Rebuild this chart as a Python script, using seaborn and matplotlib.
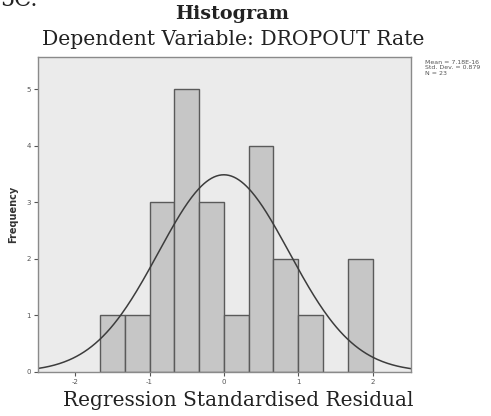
import numpy as np
import pandas as pd
import matplotlib
matplotlib.use("Agg")
import matplotlib.pyplot as plt
import seaborn as sns

# histogram bins
bin_edges = [-1.667, -1.333, -1.0, -0.667, -0.333, 0.0, 0.333, 0.667, 1.0, 1.333, 1.667, 2.0]
counts = [1, 1, 3, 5, 3, 1, 4, 2, 1, 0, 2]
x_ticks = [-2, -1, 0, 1, 2]
y_ticks = [0, 1, 2, 3, 4, 5]

# stats shown beside the plot
mean = 7.18e-16
std_dev = 0.879
n_obs = 23

sns.set_style("white")

centers = [(a + b) / 2 for a, b in zip(bin_edges[:-1], bin_edges[1:])]
df = pd.DataFrame({"resid": centers, "count": counts})

fig = plt.figure(figsize=(4.91, 4.16), dpi=100)
ax = fig.add_axes([0.0774, 0.106, 0.760, 0.757])
ax.set_facecolor("#ebebeb")

sns.histplot(data=df, x="resid", weights="count", bins=bin_edges, ax=ax,
             color="#c6c6c6", edgecolor="#5a5a5a", linewidth=1.0, alpha=1)

# fitted normal curve
bw = bin_edges[1] - bin_edges[0]
xs = np.linspace(-2.5, 2.52, 300)
ys = n_obs * bw * np.exp(-0.5 * ((xs - mean) / std_dev) ** 2) / (std_dev * np.sqrt(2 * np.pi))
sns.lineplot(x=xs, y=ys, ax=ax, color="#3c3c3c", linewidth=1.1)

ax.set_xlim(-2.5, 2.52)
ax.set_ylim(0, 5.57)
ax.set_xticks(x_ticks)
ax.set_yticks(y_ticks)
ax.set_xticklabels([str(t) for t in x_ticks])
ax.set_yticklabels([str(t) for t in y_ticks])
ax.tick_params(axis="both", labelsize=5, colors="#555555", length=3, width=0.8,
               direction="out", pad=2)
ax.tick_params(bottom=True, left=True)
for s in ax.spines.values():
    s.set_color("#8a8a8a")
    s.set_linewidth(1.0)

ax.set_xlabel("")
ax.set_ylabel("Frequency", fontsize=7, fontweight="bold", color="#333333", labelpad=6)

fig.text(0.473, 0.966, "Histogram", ha="center", va="center",
         family="DejaVu Serif", fontweight="bold", fontsize=13.8, color="#222222")
fig.text(0.475, 0.904, "Dependent Variable: DROPOUT Rate", ha="center", va="center",
         family="DejaVu Serif", fontsize=14.7, color="#222222")
fig.text(0.485, 0.038, "Regression Standardised Residual", ha="center", va="center",
         family="DejaVu Serif", fontsize=14.5, color="#222222")
fig.text(0.0, 1.0, "5C.", ha="left", va="center",
         family="DejaVu Serif", fontsize=16, color="#222222")

fig.text(0.866, 0.837,
         f"Mean = {mean:.2E}\nStd. Dev. = {std_dev}\nN = {n_obs}",
         ha="left", va="center", fontsize=4.5, color="#555555", linespacing=1.2)

fig.savefig("out.png", dpi=100)
